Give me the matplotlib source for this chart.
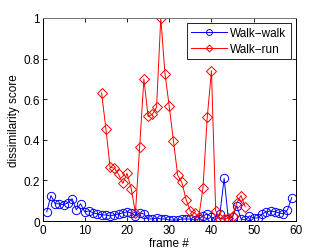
import matplotlib.pyplot as plt
from matplotlib.ticker import FuncFormatter

plt.rcParams['font.family'] = ['Liberation Sans', 'DejaVu Sans']

# walk-walk dissimilarity, frames 1..59
ww_frames = list(range(1, 60))
ww_score = [0.045, 0.125, 0.085, 0.085, 0.08, 0.09, 0.11, 0.055, 0.085, 0.045,
            0.05, 0.04, 0.035, 0.03, 0.03, 0.025, 0.03, 0.035, 0.04, 0.045,
            0.04, 0.025, 0.04, 0.035, 0.01, 0.01, 0.015, 0.01, 0.01, 0.005,
            0.005, 0.005, 0.01, 0.01, 0.01, 0.005, 0.01, 0.025, 0.035, 0.02,
            0.005, 0.035, 0.21, 0.01, 0.02, 0.075, 0.01, 0.005, 0.025, 0.015,
            0.015, 0.035, 0.045, 0.05, 0.045, 0.04, 0.035, 0.055, 0.115]

# walk-run dissimilarity, frames 14..48
wr_frames = list(range(14, 49))
wr_score = [0.63, 0.455, 0.265, 0.26, 0.23, 0.185, 0.235, 0.16, 0.04, 0.365,
            0.70, 0.515, 0.525, 0.56, 1.0, 0.725, 0.565, 0.395, 0.225, 0.19,
            0.105, 0.05, 0.04, 0.02, 0.165, 0.51, 0.74, 0.05, 0.01, 0.01,
            0.015, 0.025, 0.09, 0.125, 0.07]

fig = plt.figure(figsize=(3.27, 2.53), dpi=100)
ax = fig.add_axes([0.13, 0.1225, 0.775, 0.8025])

ax.plot(ww_frames, ww_score, color='blue', marker='o', mfc='none',
        ms=6, lw=0.7, mew=0.7, label='Walk\u2212walk')
ax.plot(wr_frames, wr_score, color='red', marker='D', mfc='none',
        ms=5, lw=0.7, mew=0.7, label='Walk\u2212run')

ax.set_xlim(0, 60)
ax.set_ylim(0, 1)
ax.set_xticks(range(0, 61, 10))
ax.set_yticks([0, 0.2, 0.4, 0.6, 0.8, 1])
ax.yaxis.set_major_formatter(FuncFormatter(lambda v, p: '%g' % v))
ax.tick_params(direction='in', top=True, right=True, labelsize=8.5,
               length=3, width=0.6, pad=2)
for s in ax.spines.values():
    s.set_linewidth(0.7)
ax.spines['top'].set_color('0.45')

ax.set_xlabel('frame #', fontsize=8.5, labelpad=1)
ax.set_ylabel('dissimilarity score', fontsize=8.5, labelpad=2)

leg = ax.legend(loc='upper right', fontsize=8.5, fancybox=False,
                edgecolor='black', framealpha=1, borderaxespad=0.45,
                handlelength=3.0, handletextpad=0.3, borderpad=0.35,
                labelspacing=0.3, markerscale=0.7)
leg.get_frame().set_linewidth(0.6)

fig.savefig('out.png', dpi=100)
